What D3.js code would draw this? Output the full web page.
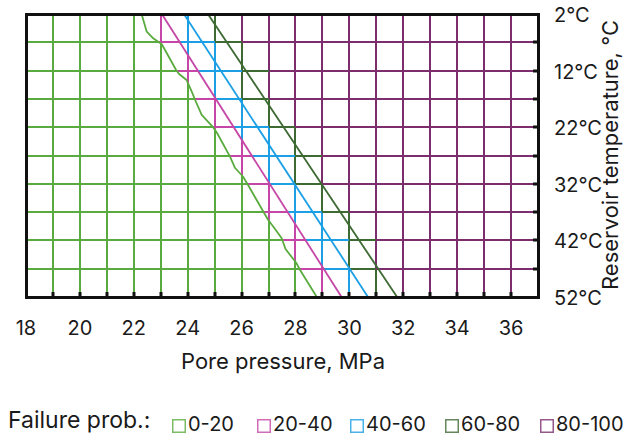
<!DOCTYPE html>
<html>
<head>
<meta charset="utf-8">
<script src="https://cdn.jsdelivr.net/npm/d3@7"></script>
<style>
  html, body { margin: 0; padding: 0; background: #ffffff; }
  svg { display: block; }
  text { font-family: Inter, "Liberation Sans", Arial, sans-serif; fill: #1a1a1a; }
</style>
</head>
<body>
<svg id="chart" width="623" height="435"></svg>
<script>
// ---- data -------------------------------------------------------------
const pressureTicks = [18, 20, 22, 24, 26, 28, 30, 32, 34, 36];
const temperatureTicks = [2, 12, 22, 32, 42, 52];
const pressureGrid = d3.range(19, 37);          // interior vertical grid lines, MPa
const pressureCells = d3.range(18, 37);         // left edge of every 1 MPa column
const temperatureGrid = d3.range(7, 52, 5);     // interior horizontal grid lines, °C
const temperatureRows = d3.range(2, 52, 5);     // top of every 5 °C row

const classLabels = ["0-20", "20-40", "40-60", "60-80", "80-100"];
const classColors = ["#5aab3f", "#c646a7", "#1c9fe4", "#3d6a33", "#7c2d6e"];

// iso-probability boundaries as [pore pressure MPa, temperature °C]
const boundary20 = [
  [22.29, 2], [22.48, 5.13], [22.72, 6.29], [23.04, 7.35], [23.57, 11.89],
  [23.68, 12.6], [23.96, 13.66], [24.15, 15.73], [24.31, 17.55], [24.52, 19.84],
  [24.95, 22.05], [25.08, 22.94], [25.57, 27.21], [25.76, 29.21], [26.05, 30.71],
  [26.24, 32.21], [26.81, 36.93], [26.99, 38.4], [27.18, 39.58], [27.49, 41.63],
  [27.63, 43.52], [28.04, 46.05], [28.17, 47.23], [28.79, 52]
];
const boundary40 = [[23.04, 2], [29.71, 52]];
const boundary60 = [[23.86, 2], [30.69, 52]];
const boundary80 = [[24.75, 2], [31.77, 52]];

// ---- layout -----------------------------------------------------------
const svg = d3.select("#chart");
const x = d3.scaleLinear().domain([18, 37]).range([26, 538]);
const y = d3.scaleLinear().domain([2, 52]).range([14, 297]);
const gx = p => Math.round(x(p));   // grid lines sit on whole pixels
const gy = t => Math.round(y(t));
const gridWidth = 2;

// pressure on a boundary polyline at a given temperature
function pressureAt(line, t) {
  for (let i = 1; i < line.length; i++) {
    const [p0, t0] = line[i - 1], [p1, t1] = line[i];
    if (t <= t1) return p0 + (p1 - p0) * (t - t0) / (t1 - t0);
  }
  return line[line.length - 1][0];
}
// last whole-MPa grid line reached by a class at a given temperature
const reach = (line, t) => Math.ceil(pressureAt(line, t) - 0.1);

// every unit piece of the interior grid
const segments = [];
pressureGrid.forEach(p => temperatureRows.forEach(t0 =>
  segments.push({ p0: p, p1: p, t0: t0, t1: t0 + 5, vertical: true })));
temperatureGrid.forEach(t => pressureCells.forEach(p =>
  segments.push({ p0: p, p1: p + 1, t0: t, t1: t, vertical: false })));

// higher classes follow whole cells: 40-60, 60-80, else 80-100
function cellClass(s) {
  const inside = line => s.vertical ? s.p0 < reach(line, s.t1) : s.p1 <= reach(line, s.t0);
  if (inside(boundary60)) return 2;
  if (inside(boundary80)) return 3;
  return 4;
}

// clip regions bounded by the boundary lines
const defs = svg.append("defs");
const L = x(18) - 8, R = x(37) + 8, T = y(2) - 8, B = y(52) + 8;
const ext = line => [[x(line[0][0]), T]]
  .concat(line.map(d => [x(d[0]), y(d[1])]))
  .concat([[x(line[line.length - 1][0]), B]]);
function addClip(id, pts) {
  defs.append("clipPath").attr("id", id)
    .append("path").attr("d", d3.line()(pts) + "Z");
}
addClip("left20", [[L, T]].concat(ext(boundary20), [[L, B]]));
addClip("between", ext(boundary20).concat(ext(boundary40).reverse()));
addClip("right40", ext(boundary40).concat([[R, B], [R, T]]));

function drawSegments(g, colorOf) {
  g.selectAll("line").data(segments).join("line")
    .attr("x1", d => gx(d.p0)).attr("x2", d => gx(d.p1))
    .attr("y1", d => gy(d.t0)).attr("y2", d => gy(d.t1))
    .attr("stroke", colorOf).attr("stroke-width", gridWidth);
}
drawSegments(svg.append("g").attr("clip-path", "url(#right40)"), d => classColors[cellClass(d)]);
drawSegments(svg.append("g").attr("clip-path", "url(#between)"), () => classColors[1]);
drawSegments(svg.append("g").attr("clip-path", "url(#left20)"), () => classColors[0]);

// boundary lines
const lineGen = d3.line().x(d => x(d[0])).y(d => y(d[1]));
[[boundary20, 0], [boundary40, 1], [boundary60, 2], [boundary80, 3]].forEach(([line, k]) => {
  svg.append("path").attr("d", lineGen(line))
    .attr("fill", "none").attr("stroke", classColors[k])
    .attr("stroke-width", 1.8).attr("stroke-linejoin", "round");
});

// frame and inner ticks
svg.append("rect")
  .attr("x", gx(18) + 0.5).attr("y", gy(2) + 0.5)
  .attr("width", gx(37) - gx(18)).attr("height", gy(52) - gy(2))
  .attr("fill", "none").attr("stroke", "#111").attr("stroke-width", 3);
svg.append("g").selectAll("line").data(pressureGrid).join("line")
  .attr("x1", d => gx(d)).attr("x2", d => gx(d))
  .attr("y1", gy(52)).attr("y2", gy(52) - 5)
  .attr("stroke", "#111").attr("stroke-width", 3);
svg.append("g").selectAll("line").data(temperatureGrid).join("line")
  .attr("x1", gx(37)).attr("x2", gx(37) - 5)
  .attr("y1", d => gy(d)).attr("y2", d => gy(d))
  .attr("stroke", "#111").attr("stroke-width", 3);

// tick labels
svg.append("g").selectAll("text").data(pressureTicks).join("text")
  .attr("x", d => x(d)).attr("y", 335)
  .attr("text-anchor", "middle").attr("font-size", 20)
  .text(d => d);
svg.append("g").selectAll("text").data(temperatureTicks).join("text")
  .attr("x", 554).attr("y", d => y(d) + 8)
  .attr("font-size", 20)
  .text(d => d + "°C");

// axis titles
svg.append("text").attr("x", 283).attr("y", 369)
  .attr("text-anchor", "middle").attr("font-size", 22)
  .text("Pore pressure, MPa");
svg.append("text")
  .attr("transform", "translate(618,290) rotate(-90)")
  .attr("font-size", 22)
  .text("Reservoir temperature, °C");

// legend
const legend = svg.append("g");
legend.append("text").attr("x", 8).attr("y", 428).attr("font-size", 23)
  .text("Failure prob.:");
const legendX = [172, 257, 350, 445, 540];
classLabels.forEach((lab, i) => {
  const g = legend.append("g").attr("transform", `translate(${legendX[i]},0)`);
  g.append("rect").attr("x", 0.75).attr("y", 419.75).attr("width", 12.5).attr("height", 12.5)
    .attr("fill", "none").attr("stroke", classColors[i]).attr("stroke-width", 1.5)
    .attr("stroke-opacity", 0.8);
  g.append("text").attr("x", 16).attr("y", 431).attr("font-size", 20).text(lab);
});
</script>
</body>
</html>
